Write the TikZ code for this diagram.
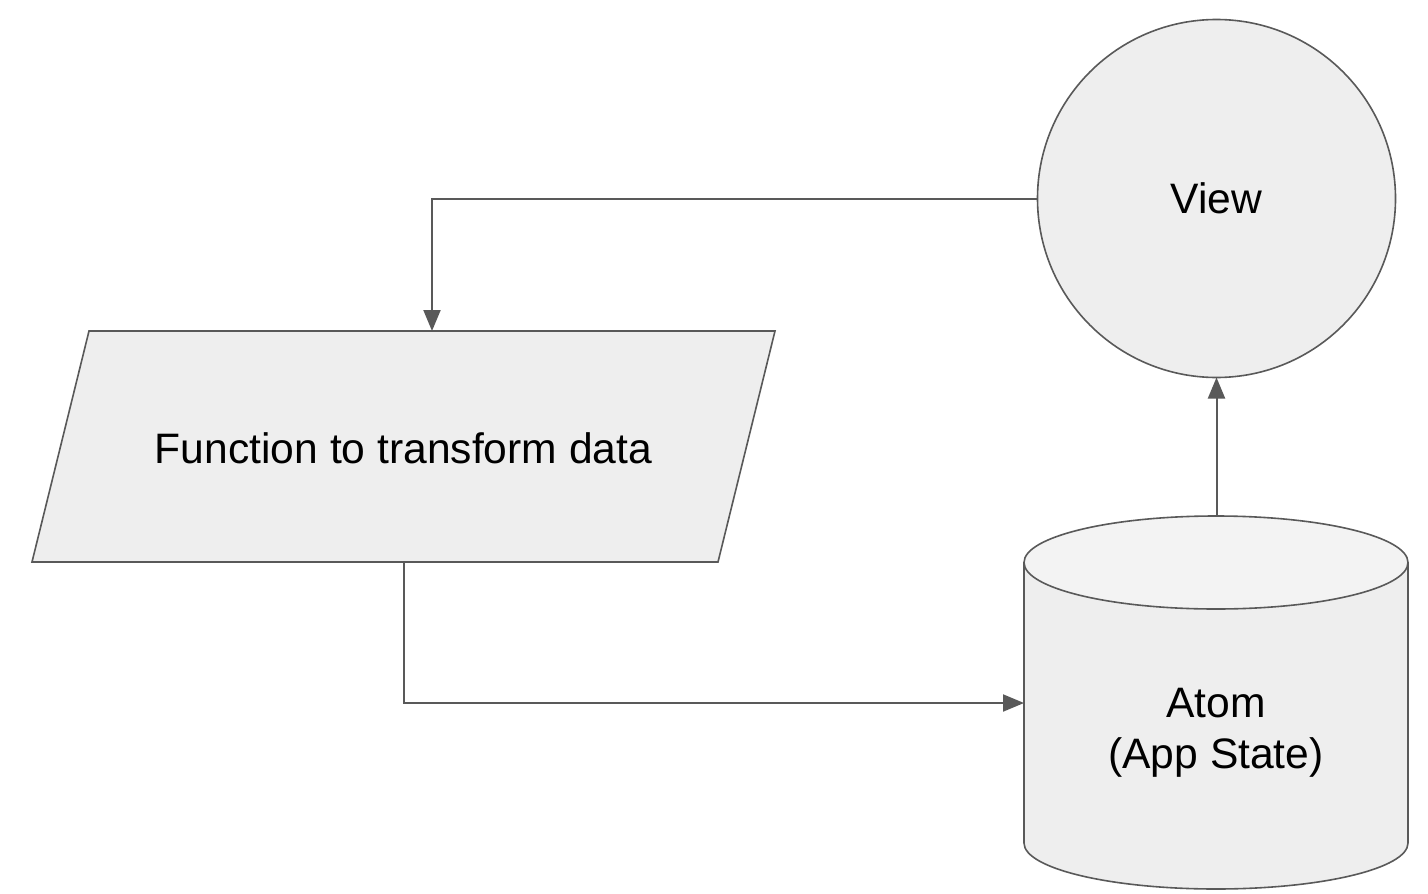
\documentclass[tikz,border=0pt]{standalone}
\usepackage{fontspec}
\setmainfont{Liberation Sans}
\usetikzlibrary{arrows.meta}
\definecolor{edgegray}{HTML}{595959}
\definecolor{shapefill}{HTML}{EEEEEE}
\definecolor{capfill}{HTML}{F3F3F3}
\begin{document}
\begin{tikzpicture}[x=1pt,y=-1pt,
  shapeline/.style={draw=edgegray,line width=1.6pt,fill=shapefill},
  conn/.style={draw=edgegray,line width=2pt,-{Triangle[length=21pt,width=17pt]}},
  lbl/.style={font=\fontsize{42.6}{51}\selectfont,text=black,align=center,inner sep=0pt}]
\useasboundingbox[fill=white] (0,0) rectangle (1428,894);
% View circle
\node[circle,shapeline,minimum size=358pt,inner sep=0pt,outer sep=0pt,
      font=\fontsize{42.6}{51}\selectfont] (view) at (1216.5,198.5) {View};
% Parallelogram
\draw[shapeline] (89,331) -- (775,331) -- (718,562) -- (32,562) -- cycle;
\node[lbl] (func) at (403.5,448) {Function to transform data};
\coordinate (functop) at (432,331);
\coordinate (funcbot) at (404,562);
% Cylinder
\draw[shapeline] (1024,562.5) -- (1024,843)
  arc[start angle=180,end angle=0,x radius=192,y radius=46] -- (1408,562.5);
\draw[shapeline,fill=capfill] (1216,562.5) ellipse[x radius=192,y radius=46.5];
\node[lbl] (atom) at (1216,732.5) {Atom\\(App State)};
\coordinate (atomtop) at (1216.5,516);
\coordinate (atomleft) at (1024,703);
% Connectors
\draw[conn] (view.west) -- (view.west -| functop) -- (functop);
\draw[conn] (funcbot) |- (atomleft);
\draw[conn] (atomtop) -- (view.south);
\end{tikzpicture}
\end{document}
